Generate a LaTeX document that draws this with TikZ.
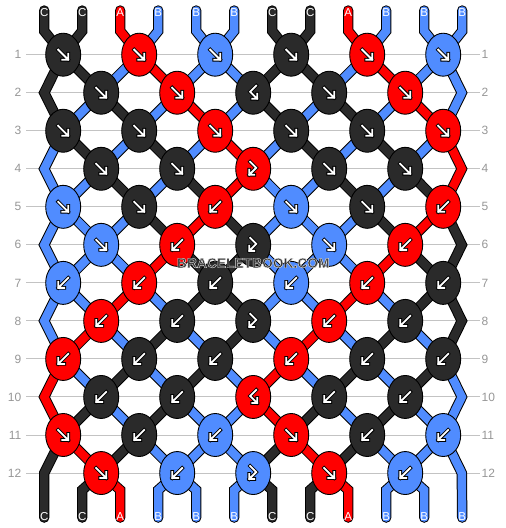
\documentclass[tikz,border=0pt]{standalone}
\usepackage{fontspec}
\setmainfont{Liberation Sans}
\usetikzlibrary{shapes.geometric}
\definecolor{colA}{RGB}{255,0,0}
\definecolor{colB}{RGB}{80,140,255}
\definecolor{colC}{RGB}{42,42,42}
\definecolor{rowgray}{RGB}{195,195,195}
\definecolor{labgray}{RGB}{150,150,150}
\definecolor{wmgray}{RGB}{50,50,50}
% string colours per position after each row
\expandafter\def\csname S0\endcsname{C,C,A,B,B,B,C,C,A,B,B,B}
\expandafter\def\csname S1\endcsname{C,C,B,A,B,B,C,C,B,A,B,B}
\expandafter\def\csname S2\endcsname{C,B,C,B,A,B,C,B,C,B,A,B}
\expandafter\def\csname S3\endcsname{B,C,B,C,B,A,B,C,B,C,B,A}
\expandafter\def\csname S4\endcsname{B,B,C,B,C,A,B,B,C,B,C,A}
\expandafter\def\csname S5\endcsname{B,B,B,C,A,C,B,B,B,C,A,C}
\expandafter\def\csname S6\endcsname{B,B,B,A,C,C,B,B,B,A,C,C}
\expandafter\def\csname S7\endcsname{B,B,A,B,C,C,B,B,A,B,C,C}
\expandafter\def\csname S8\endcsname{B,A,B,C,B,C,B,A,B,C,B,C}
\expandafter\def\csname S9\endcsname{A,B,C,B,C,B,A,B,C,B,C,B}
\expandafter\def\csname S10\endcsname{A,C,B,C,B,B,A,C,B,C,B,B}
\expandafter\def\csname S11\endcsname{C,A,C,B,B,B,C,A,C,B,B,B}
\expandafter\def\csname S12\endcsname{C,C,A,B,B,B,C,C,A,B,B,B}
% knots per row: colour/type
\expandafter\def\csname K1\endcsname{C/f,A/f,B/f,C/f,A/f,B/f}
\expandafter\def\csname K2\endcsname{C/f,A/f,C/bf,C/f,A/f}
\expandafter\def\csname K3\endcsname{C/f,C/f,A/f,C/f,C/f,A/f}
\expandafter\def\csname K4\endcsname{C/f,C/f,A/fb,C/f,C/f}
\expandafter\def\csname K5\endcsname{B/f,C/f,A/b,B/f,C/f,A/b}
\expandafter\def\csname K6\endcsname{B/f,A/b,C/fb,B/f,A/b}
\expandafter\def\csname K7\endcsname{B/b,A/b,C/b,B/b,A/b,C/b}
\expandafter\def\csname K8\endcsname{A/b,C/b,C/fb,A/b,C/b}
\expandafter\def\csname K9\endcsname{A/b,C/b,C/b,A/b,C/b,C/b}
\expandafter\def\csname K10\endcsname{C/b,C/b,A/bf,C/b,C/b}
\expandafter\def\csname K11\endcsname{A/f,C/b,B/b,A/f,C/b,B/b}
\expandafter\def\csname K12\endcsname{A/f,B/b,B/fb,A/f,B/b}
% knot glyphs (image coordinates, y down)
\def\glf{(-5,-5)--(5,5) (5,-1)--(5,5)--(-1,5)}
\def\glb{(5,-5)--(-5,5) (-5,-1)--(-5,5)--(1,5)}
\def\glfb{(-3,-7)--(3,-1)--(-4,6) (-4,1)--(-4,6)--(1,6)}
\def\glbf{(3,-7)--(-3,-1)--(4,6) (4,1)--(4,6)--(-1,6)}
\newcommand\knotglyph[2]{%
  \expandafter\let\expandafter\gcur\csname gl#1\endcsname
  \begin{scope}[shift={(#2.center)}]
    \draw[gout]\gcur;
    \draw[gin]\gcur;
  \end{scope}}
\newcommand\strandpass[1]{%
  % top stubs
  \edef\slist{\csname S0\endcsname}%
  \foreach \scol [count=\i] in \slist {%
    \ifnum#1=1 \draw[sout](t\i)--(ta\i)--(p1-\i);\else\draw[sin=\scol](t\i)--(ta\i)--(p1-\i);\fi
  }%
  \foreach \r in {1,...,11}{%
    \edef\slist{\csname S\r\endcsname}%
    \pgfmathtruncatemacro\rn{\r+1}%
    \pgfmathtruncatemacro\rnn{\r+2}%
    \foreach \scol [count=\i] in \slist {%
      \def\pth{}%
      \ifnum\i=1 \def\isedge{1}\else\ifnum\i=12 \def\isedge{1}\else\def\isedge{0}\fi\fi
      \ifnum\isedge=1
        \ifodd\r\relax
          \ifnum\r=11 \def\pth{(p11-\i)--(p12-\i)--(b\i)}%
          \else\def\pth{(p\r-\i)--(p\rn-\i)--(p\rnn-\i)}\fi
        \fi
      \else
        \def\pth{(p\r-\i)--(p\rn-\i)}%
      \fi
      \ifx\pth\empty\else
        \ifnum#1=1 \draw[sout]\pth;\else\draw[sin=\scol]\pth;\fi
      \fi
    }%
  }%
  % bottom stubs
  \edef\slist{\csname S12\endcsname}%
  \foreach \scol [count=\i] in \slist {%
    \ifnum\i>1 \ifnum\i<12
      \ifnum#1=1 \draw[sout](p12-\i)--(ba\i)--(b\i);\else\draw[sin=\scol](p12-\i)--(ba\i)--(b\i);\fi
    \fi\fi
  }%
}
\tikzset{
  sout/.style={draw=black,line width=10.4pt,line cap=round,line join=miter},
  sin/.style={draw=col#1,line width=8.4pt,line cap=round,line join=miter},
  knot/.style={ellipse,draw=black,line width=0.9pt,minimum width=35pt,minimum height=43pt,inner sep=0pt},
  gout/.style={draw=black,line width=3.6pt,line cap=rect,line join=miter},
  gin/.style={draw=white,line width=1.8pt,line cap=rect,line join=miter},
  rowline/.style={draw=rowgray,line width=1pt},
  rowlab/.style={text=labgray,inner sep=0pt,font=\fontsize{12}{12}\selectfont},
  strlab/.style={text=white,inner sep=0pt,font=\fontsize{11.5}{12}\selectfont},
  wm/.style={inner sep=0pt,font=\bfseries\fontsize{13.8}{14}\selectfont},
}
\begin{document}
\begin{tikzpicture}[x=1pt,y=-1pt]
\useasboundingbox (0,0) rectangle (506,528);
% coordinates of string positions at each row
\foreach \r in {1,...,12}{%
  \pgfmathsetmacro\yy{54.7+38.03*(\r-1)}%
  \foreach \i in {1,...,12}{%
    \ifodd\r\relax
      \pgfmathsetmacro\xx{63.2+38*(\i-2+mod(\i,2))}%
    \else
      \ifnum\i=1 \def\xx{44.2}\else\ifnum\i=12 \def\xx{461.8}\else
        \pgfmathsetmacro\xx{63.2+38*(\i-1-mod(\i,2))}\fi\fi
    \fi
    \coordinate (p\r-\i) at (\xx,\yy);
  }%
  \coordinate (ll\r) at (26,\yy);
  \coordinate (lr\r) at (480,\yy);
  \node[rowlab,anchor=east] (L\r) at (21.5,\yy) {\r};
  \node[rowlab,anchor=west] (R\r) at (481.5,\yy) {\r};
  \draw[rowline] (ll\r) -- (lr\r);
}
\foreach \i in {1,...,12}{%
  \pgfmathsetmacro\xx{44.2+38*(\i-1)}%
  \coordinate (t\i) at (\xx,10.5);
  \coordinate (ta\i) at (\xx,31);
  \coordinate (ba\i) at (\xx,490);
  \coordinate (b\i) at (\xx,517.6);
}
% strings
\strandpass{1}
\strandpass{0}
% knots
\foreach \r in {1,...,12}{%
  \pgfmathsetmacro\yy{54.7+38.03*(\r-1)}%
  \edef\klist{\csname K\r\endcsname}%
  \foreach \kc/\kt [count=\k] in \klist {%
    \ifodd\r\relax\pgfmathsetmacro\xx{63.2+76*(\k-1)}\else\pgfmathsetmacro\xx{101.2+76*(\k-1)}\fi
    \node[knot,fill=col\kc] (k\r-\k) at (\xx,\yy) {};
    \knotglyph{\kt}{k\r-\k}%
  }%
}
% string letters
\edef\slist{\csname S0\endcsname}
\foreach \scol [count=\i] in \slist {%
  \pgfmathsetmacro\xx{44.2+38*(\i-1)}%
  \node[strlab] (top\i) at (\xx,12.6) {\scol};
}
\edef\slist{\csname S12\endcsname}
\foreach \scol [count=\i] in \slist {%
  \pgfmathsetmacro\xx{44.2+38*(\i-1)}%
  \node[strlab] (bot\i) at (\xx,516.6) {\scol};
}
% watermark: dark text with a thin light edge
\node[wm,text=wmgray] (wm) at (253.3,263) {\special{pdf:literal direct 0.85 0.85 0.85 RG 0.45 w 2 Tr}BRACELETBOOK.COM\special{pdf:literal direct 0 Tr}};
\end{tikzpicture}
\end{document}
